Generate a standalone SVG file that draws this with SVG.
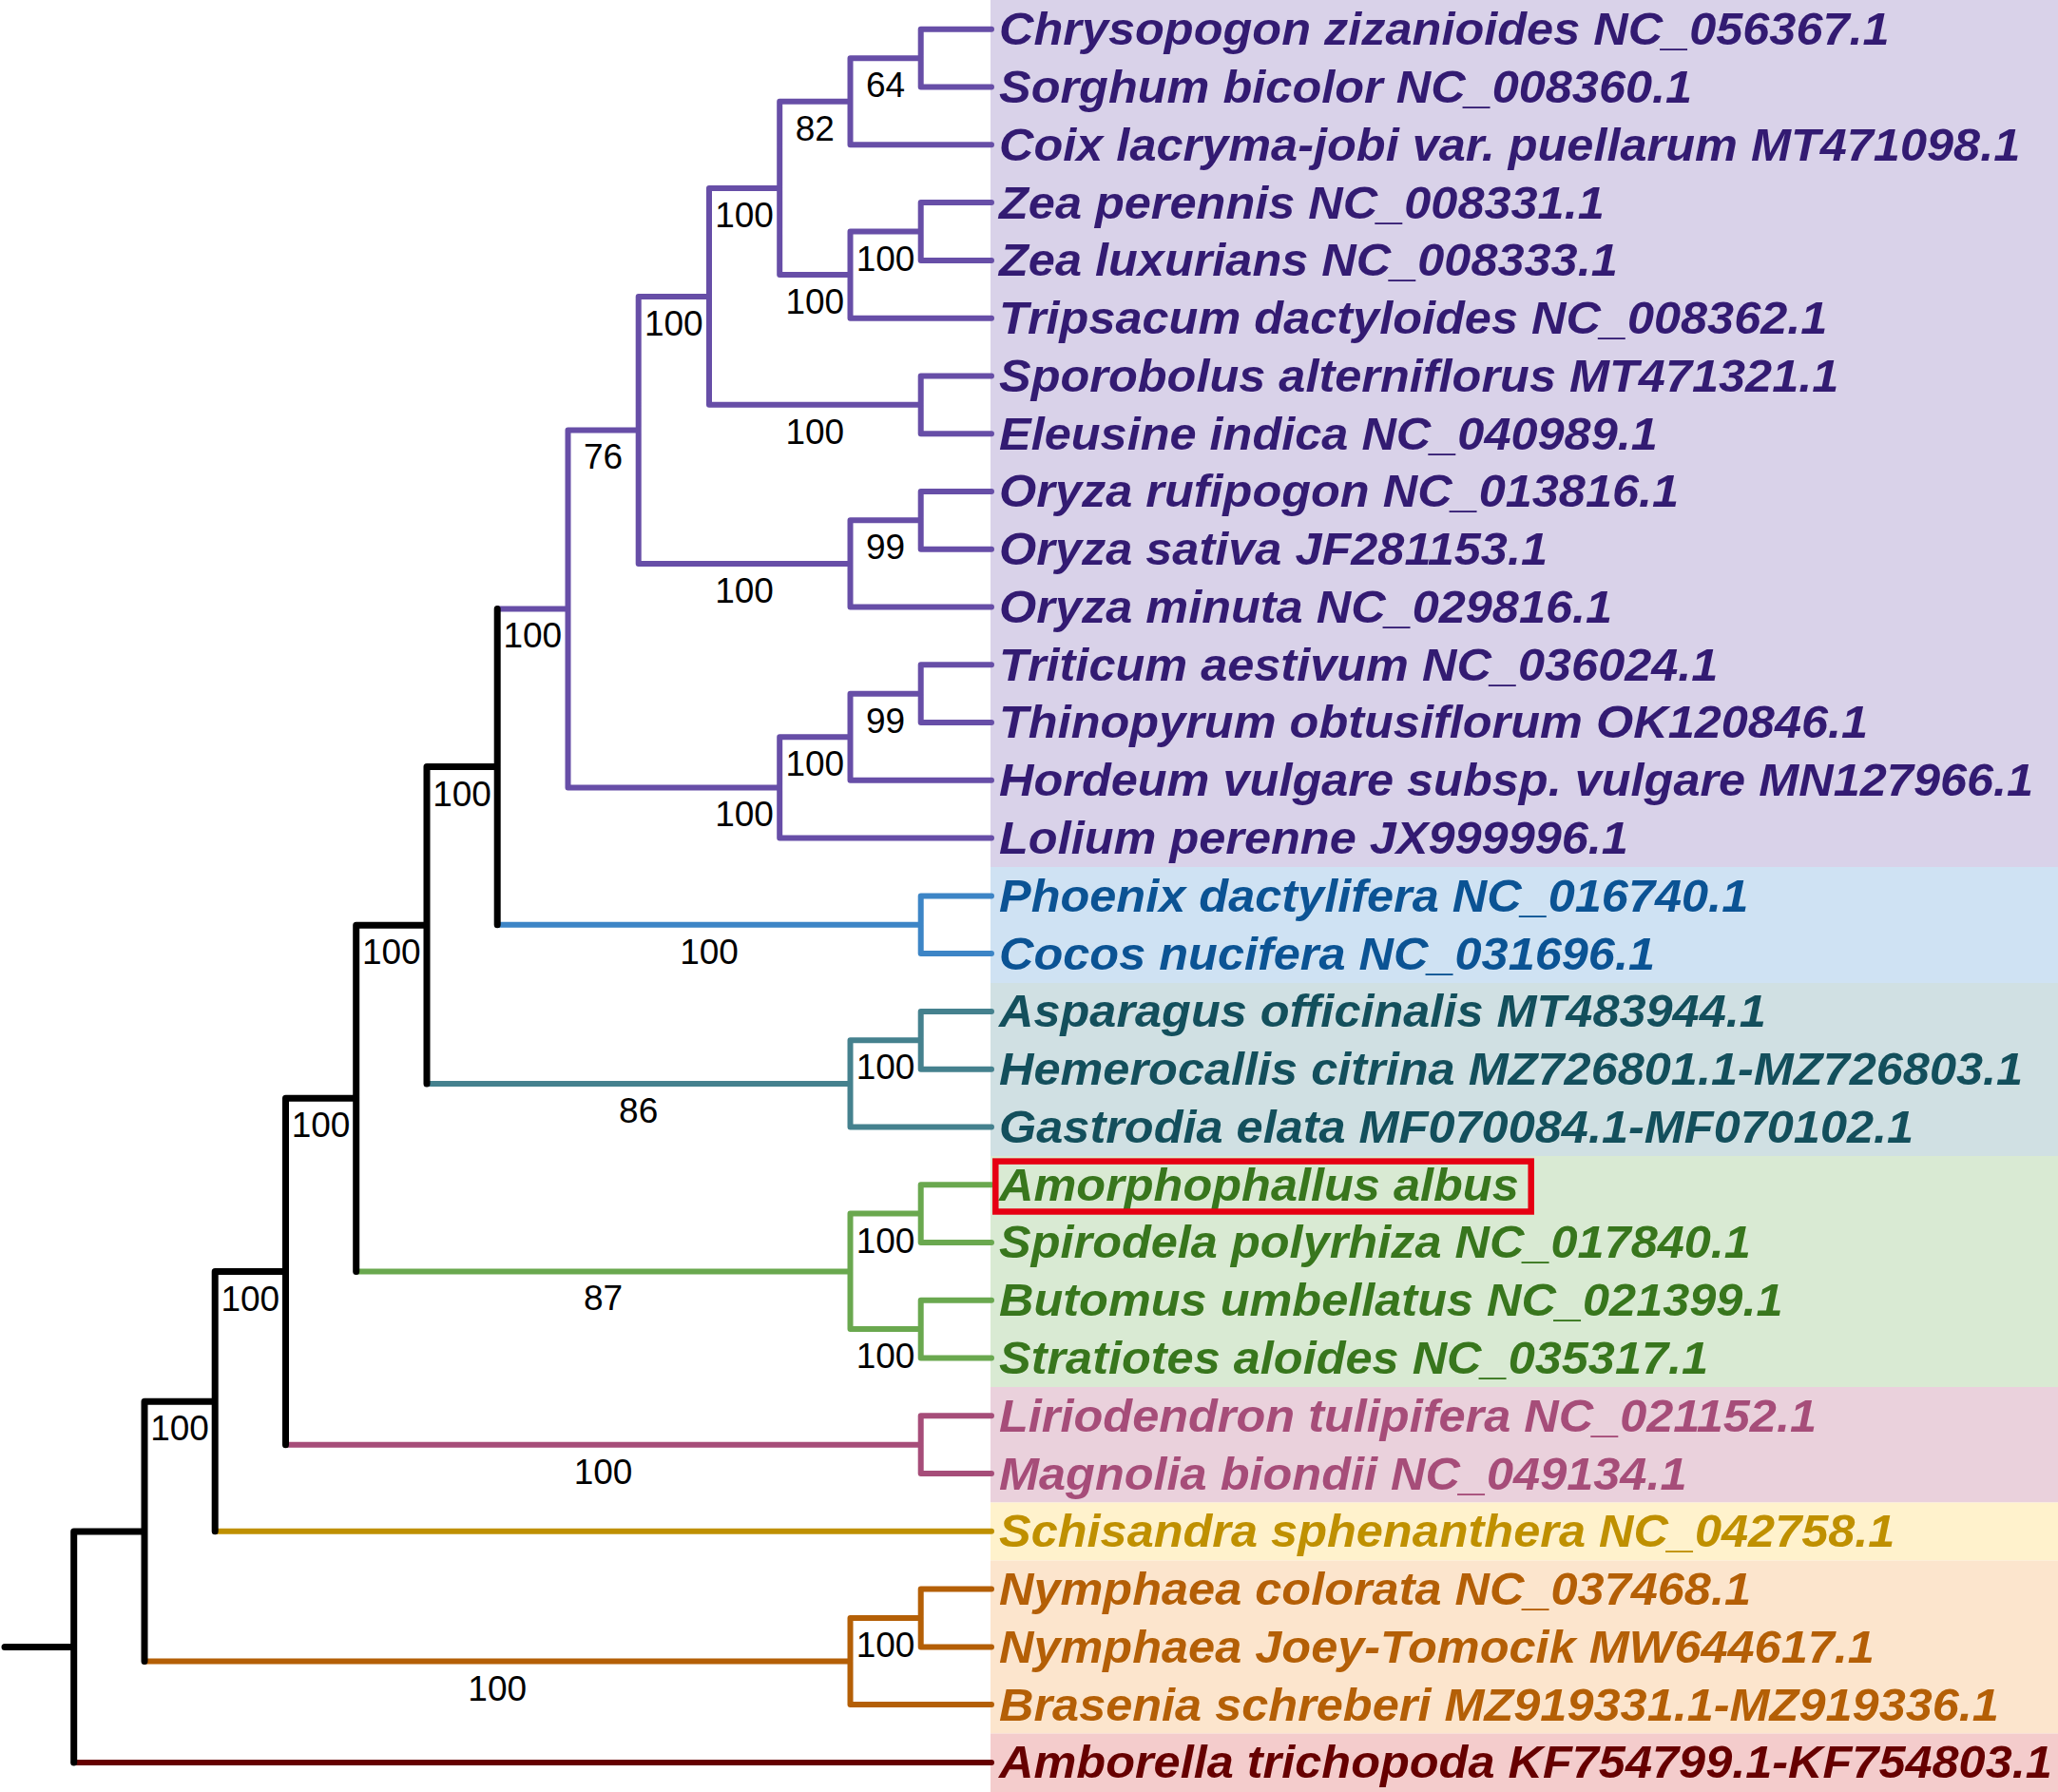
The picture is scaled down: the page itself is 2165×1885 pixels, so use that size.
<svg xmlns="http://www.w3.org/2000/svg" width="2165" height="1885" viewBox="0 0 2165 1885">
<style>
path{fill:none;stroke-width:6;stroke-linecap:round;stroke-linejoin:round}
.k{stroke:#000;stroke-width:7}
.pu{stroke:#674EA7}.bl{stroke:#3D85C6}.te{stroke:#45818E}.gr{stroke:#6AA84F}
.ma{stroke:#A64D79}.ye{stroke:#BF9000}.or{stroke:#B45F06}.dr{stroke:#660000}
.leaf{font-family:"Liberation Sans",Arial,sans-serif;font-weight:bold;font-style:italic;font-size:49px}
.sup{font-family:"Liberation Sans",Arial,sans-serif;font-size:37px;fill:#000;text-anchor:middle}
.tpu{fill:#331B72}.tbl{fill:#0B5394}.tte{fill:#134F5C}.tgr{fill:#38761D}
.tma{fill:#A64D79}.tye{fill:#BF9000}.tor{fill:#B45F06}.tdr{fill:#660000}
</style>
<rect width="2165" height="1885" fill="#fff"/>
<g id="clade-bands">
<rect x="1042" y="0" width="1123" height="912" fill="#D9D2E9"/>
<rect x="1042" y="912" width="1123" height="122" fill="#CFE2F3"/>
<rect x="1042" y="1034" width="1123" height="182" fill="#D0E0E3"/>
<rect x="1042" y="1216" width="1123" height="243" fill="#D9EAD3"/>
<rect x="1042" y="1459" width="1123" height="121.5" fill="#EAD1DC"/>
<rect x="1042" y="1580.5" width="1123" height="61" fill="#FFF2CC"/>
<rect x="1042" y="1641.5" width="1123" height="182" fill="#FCE5CD"/>
<rect x="1042" y="1823.5" width="1123" height="61.5" fill="#F4CCCC"/>
</g>
<g id="connectors">
<path class="pu" d="M1043,30.8H968.7V91.6H1043 M968.7,61.2H894.5V152.3H1043 M1043,213.1H968.7V273.9H1043 M968.7,243.5H894.5V334.7H1043 M894.5,106.8H820.2V289.1H894.5 M1043,395.4H968.7V456.2H1043 M820.2,197.9H746V425.8H968.7 M1043,517H968.7V577.7H1043 M968.7,547.3H894.5V638.5H1043 M746,311.9H671.7V592.9H894.5 M1043,699.3H968.7V760H1043 M968.7,729.7H894.5V820.8H1043 M894.5,775.2H820.2V881.6H1043 M671.7,452.4H597.5V828.4H820.2 M523.2,640.4H597.5"/>
<path class="bl" d="M523.2,972.7H968.7 M1043,942.4H968.7V1003.1H1043"/>
<path class="te" d="M449,1139.9H894.5 M1043,1063.9H968.7V1124.7H1043 M968.7,1094.3H894.5V1185.4H1043"/>
<path class="gr" d="M374.7,1337.4H894.5 M968.7,1276.6H894.5V1398.1H968.7 M1043,1246.2H968.7V1307H1043 M1043,1367.7H968.7V1428.5H1043"/>
<path class="ma" d="M300.5,1519.7H968.7 M1043,1489.3H968.7V1550.1H1043"/>
<path class="ye" d="M226.2,1610.8H1043"/>
<path class="or" d="M152,1747.6H894.5 M968.7,1702H894.5V1793.1H1043 M1043,1671.6H968.7V1732.4H1043"/>
<path class="dr" d="M77.7,1853.9H1043"/>
<path class="k" d="M523.2,640.4V972.7 M449,806.6H523.2 M449,806.6V1139.9 M374.7,973.2H449 M374.7,973.2V1337.4 M300.5,1155.3H374.7 M300.5,1155.3V1519.7 M226.2,1337.5H300.5 M226.2,1337.5V1610.8 M152,1474.2H226.2 M152,1474.2V1747.6 M77.7,1610.9H152 M77.7,1610.9V1853.9 M5,1732.4H77.7"/>
</g>
<g id="support-values">
<text class="sup" x="931.6" y="102.2">64</text>
<text class="sup" x="857.3" y="147.8">82</text>
<text class="sup" x="931.6" y="284.5">100</text>
<text class="sup" x="857.3" y="330.1">100</text>
<text class="sup" x="783.1" y="238.9">100</text>
<text class="sup" x="857.3" y="466.8">100</text>
<text class="sup" x="708.8" y="352.9">100</text>
<text class="sup" x="931.6" y="588.3">99</text>
<text class="sup" x="783.1" y="633.9">100</text>
<text class="sup" x="634.6" y="493.4">76</text>
<text class="sup" x="931.6" y="770.7">99</text>
<text class="sup" x="857.3" y="816.2">100</text>
<text class="sup" x="783.1" y="869.4">100</text>
<text class="sup" x="560.3" y="681.4">100</text>
<text class="sup" x="746" y="1013.7">100</text>
<text class="sup" x="486.1" y="847.6">100</text>
<text class="sup" x="931.6" y="1135.3">100</text>
<text class="sup" x="671.7" y="1180.9">86</text>
<text class="sup" x="411.8" y="1014.2">100</text>
<text class="sup" x="931.6" y="1317.6">100</text>
<text class="sup" x="931.6" y="1439.1">100</text>
<text class="sup" x="634.6" y="1378.4">87</text>
<text class="sup" x="337.6" y="1196.3">100</text>
<text class="sup" x="634.6" y="1560.7">100</text>
<text class="sup" x="263.3" y="1378.5">100</text>
<text class="sup" x="189.1" y="1515.2">100</text>
<text class="sup" x="931.6" y="1743">100</text>
<text class="sup" x="523.2" y="1788.6">100</text>
</g>
<g id="taxa">
<g id="leaf-chrysopogon"><text class="leaf tpu" transform="matrix(1.03 0 0 1 -31.53 0)" x="1051" y="47.3">Chrysopogon zizanioides NC_056367.1</text></g>
<g id="leaf-sorghum"><text class="leaf tpu" transform="matrix(1.03 0 0 1 -31.53 0)" x="1051" y="108.1">Sorghum bicolor NC_008360.1</text></g>
<g id="leaf-coix"><text class="leaf tpu" transform="matrix(1.03 0 0 1 -31.53 0)" x="1051" y="168.8">Coix lacryma-jobi var. puellarum MT471098.1</text></g>
<g id="leaf-zea-perennis"><text class="leaf tpu" transform="matrix(1.03 0 0 1 -31.53 0)" x="1051" y="229.6">Zea perennis NC_008331.1</text></g>
<g id="leaf-zea-luxurians"><text class="leaf tpu" transform="matrix(1.03 0 0 1 -31.53 0)" x="1051" y="290.4">Zea luxurians NC_008333.1</text></g>
<g id="leaf-tripsacum"><text class="leaf tpu" transform="matrix(1.03 0 0 1 -31.53 0)" x="1051" y="351.2">Tripsacum dactyloides NC_008362.1</text></g>
<g id="leaf-sporobolus"><text class="leaf tpu" transform="matrix(1.03 0 0 1 -31.53 0)" x="1051" y="411.9">Sporobolus alterniflorus MT471321.1</text></g>
<g id="leaf-eleusine"><text class="leaf tpu" transform="matrix(1.03 0 0 1 -31.53 0)" x="1051" y="472.7">Eleusine indica NC_040989.1</text></g>
<g id="leaf-oryza-rufipogon"><text class="leaf tpu" transform="matrix(1.03 0 0 1 -31.53 0)" x="1051" y="533.5">Oryza rufipogon NC_013816.1</text></g>
<g id="leaf-oryza-sativa"><text class="leaf tpu" transform="matrix(1.03 0 0 1 -31.53 0)" x="1051" y="594.2">Oryza sativa JF281153.1</text></g>
<g id="leaf-oryza-minuta"><text class="leaf tpu" transform="matrix(1.03 0 0 1 -31.53 0)" x="1051" y="655">Oryza minuta NC_029816.1</text></g>
<g id="leaf-triticum"><text class="leaf tpu" transform="matrix(1.03 0 0 1 -31.53 0)" x="1051" y="715.8">Triticum aestivum NC_036024.1</text></g>
<g id="leaf-thinopyrum"><text class="leaf tpu" transform="matrix(1.03 0 0 1 -31.53 0)" x="1051" y="776.5">Thinopyrum obtusiflorum OK120846.1</text></g>
<g id="leaf-hordeum"><text class="leaf tpu" transform="matrix(1.03 0 0 1 -31.53 0)" x="1051" y="837.3">Hordeum vulgare subsp. vulgare MN127966.1</text></g>
<g id="leaf-lolium"><text class="leaf tpu" transform="matrix(1.03 0 0 1 -31.53 0)" x="1051" y="898.1">Lolium perenne JX999996.1</text></g>
<g id="leaf-phoenix"><text class="leaf tbl" transform="matrix(1.03 0 0 1 -31.53 0)" x="1051" y="958.9">Phoenix dactylifera NC_016740.1</text></g>
<g id="leaf-cocos"><text class="leaf tbl" transform="matrix(1.03 0 0 1 -31.53 0)" x="1051" y="1019.6">Cocos nucifera NC_031696.1</text></g>
<g id="leaf-asparagus"><text class="leaf tte" transform="matrix(1.03 0 0 1 -31.53 0)" x="1051" y="1080.4">Asparagus officinalis MT483944.1</text></g>
<g id="leaf-hemerocallis"><text class="leaf tte" transform="matrix(1.03 0 0 1 -31.53 0)" x="1051" y="1141.2">Hemerocallis citrina MZ726801.1-MZ726803.1</text></g>
<g id="leaf-gastrodia"><text class="leaf tte" transform="matrix(1.03 0 0 1 -31.53 0)" x="1051" y="1201.9">Gastrodia elata MF070084.1-MF070102.1</text></g>
<g id="leaf-amorphophallus"><text class="leaf tgr" transform="matrix(1.03 0 0 1 -31.53 0)" x="1051" y="1262.7">Amorphophallus albus</text><rect x="1047.3" y="1221.6" width="563.4" height="52.9" fill="none" stroke="#E60012" stroke-width="6.5"/></g>
<g id="leaf-spirodela"><text class="leaf tgr" transform="matrix(1.03 0 0 1 -31.53 0)" x="1051" y="1323.5">Spirodela polyrhiza NC_017840.1</text></g>
<g id="leaf-butomus"><text class="leaf tgr" transform="matrix(1.03 0 0 1 -31.53 0)" x="1051" y="1384.2">Butomus umbellatus NC_021399.1</text></g>
<g id="leaf-stratiotes"><text class="leaf tgr" transform="matrix(1.03 0 0 1 -31.53 0)" x="1051" y="1445">Stratiotes aloides NC_035317.1</text></g>
<g id="leaf-liriodendron"><text class="leaf tma" transform="matrix(1.03 0 0 1 -31.53 0)" x="1051" y="1505.8">Liriodendron tulipifera NC_021152.1</text></g>
<g id="leaf-magnolia"><text class="leaf tma" transform="matrix(1.03 0 0 1 -31.53 0)" x="1051" y="1566.6">Magnolia biondii NC_049134.1</text></g>
<g id="leaf-schisandra"><text class="leaf tye" transform="matrix(1.03 0 0 1 -31.53 0)" x="1051" y="1627.3">Schisandra sphenanthera NC_042758.1</text></g>
<g id="leaf-nymphaea-colorata"><text class="leaf tor" transform="matrix(1.03 0 0 1 -31.53 0)" x="1051" y="1688.1">Nymphaea colorata NC_037468.1</text></g>
<g id="leaf-nymphaea-joey"><text class="leaf tor" transform="matrix(1.03 0 0 1 -31.53 0)" x="1051" y="1748.9">Nymphaea Joey-Tomocik MW644617.1</text></g>
<g id="leaf-brasenia"><text class="leaf tor" transform="matrix(1.03 0 0 1 -31.53 0)" x="1051" y="1809.6">Brasenia schreberi MZ919331.1-MZ919336.1</text></g>
<g id="leaf-amborella"><text class="leaf tdr" transform="matrix(1.03 0 0 1 -31.53 0)" x="1051" y="1870.4">Amborella trichopoda KF754799.1-KF754803.1</text></g>
</g>
</svg>
